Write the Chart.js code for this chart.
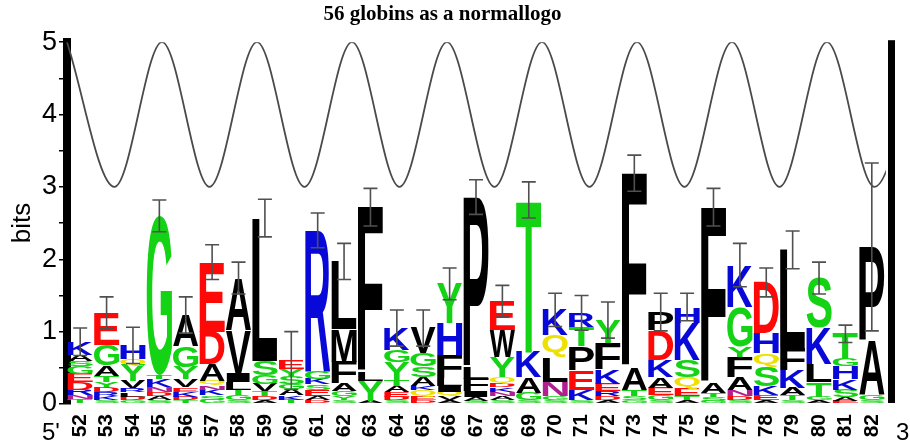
<!DOCTYPE html>
<html>
<head>
<meta charset="utf-8">
<script src="https://cdn.jsdelivr.net/npm/chart.js@4.4.1/dist/chart.umd.min.js"></script>
<style>
  html, body { margin: 0; background: #fff; }
  #wrap { width: 910px; height: 443px; }
</style>
</head>
<body>
<div id="wrap"><canvas id="logo"></canvas></div>
<script>
// positions along the alignment
const positions = ['52','53','54','55','56','57','58','59','60','61','62','63','64','65','66',
  '67','68','69','70','71','72','73','74','75','76','77','78','79','80','81','82'];

// letters of each stack, bottom to top
const stackLetters = [
  'TNRDEGSAK', 'SKRDYTAGE', 'GDLRVYQH', 'SADNKTG', 'TDKEVYGA', 'GSKNQADE', 'SGTLIVA', 'ADTVGSL',
  'TKAGSYE', 'DAESKGR', 'SYGAFML', 'AYLF', 'SDEATYGK', 'DEQKASGV', 'AVQILFHY', 'SAIFLP',
  'SANKDQYWE', 'SGAKT', 'SGNLQK', 'SKEPTR', 'ADREKFY', 'GSTAF', 'SGEAKDP', 'ATEQSKH',
  'GSTAF', 'SDNAFYGK', 'AEKSQHD', 'STAKFL', 'AGTLKS', 'EASKHGT', 'SGAP'
];

// letter heights in bits, same order
const stackHeights = [
  [.07,.05,.08,.1,.12,.1,.08,.08,.18],
  [.05,.06,.06,.07,.07,.08,.14,.29,.44],
  [.05,.05,.06,.06,.1,.22,.08,.19],
  [.05,.06,.06,.07,.1,.06,2.2],
  [.05,.05,.07,.06,.11,.17,.29,.43],
  [.06,.06,.08,.06,.06,.23,.45,.96],
  [.05,.07,.08,.1,.12,.6,.72],
  [.05,.06,.07,.1,.12,.2,1.97],
  [.06,.06,.08,.08,.1,.1,.12],
  [.05,.06,.08,.08,.08,.1,1.95],
  [.05,.06,.07,.1,.3,.45,.94],
  [.04,.28,.12,2.28],
  [.05,.05,.07,.08,.08,.25,.17,.3],
  [.05,.06,.08,.06,.12,.15,.18,.35],
  [.05,.06,.06,.08,.1,.33,.44,.54],
  [.04,.06,.08,.17,.15,2.36],
  [.05,.06,.06,.06,.06,.08,.28,.37,.4],
  [.05,.1,.22,.35,2.1],
  [.05,.06,.2,.34,.3,.35],
  [.05,.15,.27,.33,.26,.2],
  [.05,.06,.07,.1,.2,.36,.32],
  [.05,.06,.09,.31,2.68],
  [.05,.07,.1,.15,.24,.41,.25],
  [.05,.06,.1,.16,.24,.51,.22],
  [.04,.05,.06,.15,2.42],
  [.05,.06,.08,.18,.28,.14,.55,.58],
  [.05,.07,.12,.27,.19,.28,.7],
  [.05,.07,.1,.25,.3,1.36],
  [.05,.05,.2,.25,.5,.69],
  [.04,.06,.1,.14,.18,.1,.35],
  [.05,.07,.76,1.29]
];

// error bar half-length at the top of each stack (bits)
const errorBars = [.19,.22,.25,.22,.25,.24,.22,.26,.4,.24,.25,.26,.25,.25,.22,.24,
  .22,.25,.23,.24,.25,.25,.26,.19,.26,.3,.2,.26,.22,.12,1.16];

// helix wave: crests and troughs (position, bits)
const waveX = [51.5,53.3,55.1,56.9,58.7,60.5,62.3,64.1,65.9,67.7,69.5,71.3,73.1,74.9,76.7,78.5,80.3,82.1,83.9];
const waveY = [5,3,5,3,5,3,5,3,5,3,5,3,5,3,5,3,5,3,5];

const GREEN = '#14d214', BLUE = '#0808d8', RED = '#ff0808', BLACK = '#000000', YELLOW = '#eee000', PURPLE = '#b02090';
const letterColors = {
  G: GREEN, S: GREEN, T: GREEN, Y: GREEN, C: GREEN,
  K: BLUE, R: BLUE, H: BLUE,
  D: RED, E: RED,
  Q: YELLOW, N: PURPLE,
  A: BLACK, V: BLACK, L: BLACK, I: BLACK, P: BLACK, W: BLACK, F: BLACK, M: BLACK
};

const firstPos = Number(positions[0]);

// one stacked dataset per layer of the logo
const layerCount = Math.max(...stackLetters.map(s => s.length));
const datasets = [];
for (let j = 0; j < layerCount; j++) {
  datasets.push({
    type: 'bar',
    label: 'layer ' + j,
    data: stackHeights.map(h => h[j] || 0),
    letters: stackLetters.map(s => s[j] || ''),
    backgroundColor: 'rgba(0,0,0,0)',
    borderWidth: 0,
    stack: 'logo',
    barPercentage: 0.96,
    categoryPercentage: 1,
    order: 0
  });
}
// the wave sits on the same category axis, x given as index offset from the first position
datasets.push({
  type: 'line',
  label: 'wave',
  parsing: false,
  data: waveX.map((x, k) => ({ x: x - firstPos, y: waveY[k] })),
  stack: 'wave',
  borderColor: '#4a4a4a',
  borderWidth: 1.8,
  pointRadius: 0,
  fill: false,
  cubicInterpolationMode: 'monotone',
  order: 1
});

// draws the letters into the stacked boxes, then error bars and the end labels
const logoPlugin = {
  id: 'logoLetters',
  afterDatasetsDraw(chart) {
    const ctx = chart.ctx;
    const xs = chart.scales.x, ys = chart.scales.y;
    const slot = xs.width / positions.length;
    const lw = slot * 0.96;
    ctx.save();
    ctx.font = 'bold 100px "Liberation Sans", Arial, sans-serif';
    ctx.textAlign = 'left';
    ctx.textBaseline = 'alphabetic';
    chart.data.datasets.forEach((ds, di) => {
      if (!ds.letters) return;
      const meta = chart.getDatasetMeta(di);
      meta.data.forEach((bar, i) => {
        const ch = ds.letters[i];
        const p = bar.getProps(['y', 'base'], true);
        const h = p.base - p.y;
        if (!ch || h < 0.4) return;
        const cx = xs.getPixelForValue(i);
        const m = ctx.measureText(ch);
        const gw = m.actualBoundingBoxLeft + m.actualBoundingBoxRight;
        const gh = m.actualBoundingBoxAscent + m.actualBoundingBoxDescent;
        ctx.save();
        ctx.translate(cx - lw / 2, p.y);
        ctx.scale(lw / gw, h / gh);
        ctx.fillStyle = letterColors[ch] || '#000';
        ctx.fillText(ch, m.actualBoundingBoxLeft, m.actualBoundingBoxAscent);
        ctx.restore();
      });
    });

    // error bars
    ctx.strokeStyle = '#505050';
    ctx.lineWidth = 1.6;
    positions.forEach((pos, i) => {
      const top = stackHeights[i].reduce((a, b) => a + b, 0);
      const cx = xs.getPixelForValue(i);
      const y1 = ys.getPixelForValue(top + errorBars[i]);
      const y2 = ys.getPixelForValue(Math.max(0, top - errorBars[i]));
      ctx.beginPath();
      ctx.moveTo(cx, y1); ctx.lineTo(cx, y2);
      ctx.moveTo(cx - 7, y1); ctx.lineTo(cx + 7, y1);
      ctx.moveTo(cx - 7, y2); ctx.lineTo(cx + 7, y2);
      ctx.stroke();
    });

    // right-hand bar and 5'/3' ends
    const area = chart.chartArea;
    ctx.fillStyle = '#000';
    ctx.fillRect(area.right + 3, area.top - 2, 7, area.bottom - area.top + 1);
    ctx.font = '24px "Liberation Sans", Arial, sans-serif';
    ctx.textBaseline = 'bottom';
    ctx.fillText("5'", area.left - 25, chart.height + 2);
    ctx.fillText("3'", area.right + 11, chart.height + 2);
    ctx.restore();
  }
};

new Chart(document.getElementById('logo'), {
  type: 'bar',
  data: { labels: positions, datasets: datasets },
  options: {
    responsive: true,
    maintainAspectRatio: false,
    animation: false,
    events: [],
    layout: { padding: { left: 0, right: 25, top: 0, bottom: 0 } },
    plugins: {
      legend: { display: false },
      tooltip: { enabled: false },
      title: {
        display: true,
        text: '56 globins as a normallogo',
        color: '#000',
        font: { family: '"Liberation Serif", "Times New Roman", serif', size: 21, weight: 'bold' },
        padding: { top: 2, bottom: 15 }
      }
    },
    scales: {
      x: {
        type: 'category',
        stacked: true,
        offset: true,
        grid: { display: false },
        border: { display: false },
        ticks: {
          color: '#000',
          font: { family: '"Liberation Sans", Arial, sans-serif', size: 21, weight: 'bold' },
          minRotation: 90,
          maxRotation: 90,
          autoSkip: false,
          padding: 2
        },
        afterFit(scale) { scale.height = 39; }
      },
      y: {
        stacked: true,
        min: 0,
        max: 5,
        grid: { drawOnChartArea: false, drawTicks: true, tickLength: 8, color: '#000', lineWidth: 1.5 },
        border: { display: true, width: 8, color: '#000' },
        ticks: {
          stepSize: 0.5,
          color: '#000',
          padding: 2,
          font: { family: '"Liberation Sans", Arial, sans-serif', size: 27 },
          callback: v => Number.isInteger(v) ? String(v) : ''
        },
        title: {
          display: true,
          text: 'bits',
          color: '#000',
          padding: { top: 7, bottom: 0 },
          font: { family: '"Liberation Sans", Arial, sans-serif', size: 26 }
        },
        afterFit(scale) { scale.width = 67; }
      }
    }
  },
  plugins: [logoPlugin]
});
</script>
</body>
</html>
